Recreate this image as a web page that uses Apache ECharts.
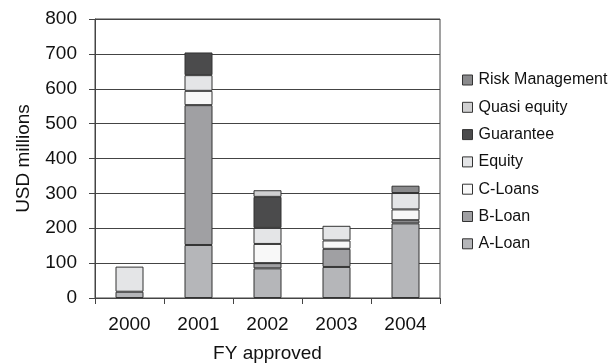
<!DOCTYPE html>
<html>
<head>
<meta charset="utf-8">
<script src="https://cdn.jsdelivr.net/npm/echarts@6/dist/echarts.min.js"></script>
<style>
  html, body { margin: 0; padding: 0; background: #fff; }
  #chart { width: 615px; height: 364px; }
</style>
</head>
<body>
<div id="chart"></div>
<script>
// Fiscal years of approval
const years = ['2000', '2001', '2002', '2003', '2004'];

// Approved amounts per instrument, USD millions
const aLoan          = [18, 152, 85, 89, 214];
const bLoan          = [0, 401, 15, 52, 9];
const cLoans         = [0, 41, 55, 24, 31];
const equity         = [72, 45, 46, 42, 47];
const guarantee      = [0, 65, 89, 0, 0];
const quasiEquity    = [0, 0, 19, 0, 0];
const riskManagement = [0, 0, 0, 0, 21];

// Y axis range
const yMin = 0, yMax = 800, yStep = 100;

const stackOrder = [
  { name: 'A-Loan', data: aLoan, color: '#b5b6b9' },
  { name: 'B-Loan', data: bLoan, color: '#a0a0a3' },
  { name: 'C-Loans', data: cLoans, color: '#f8f8f8' },
  { name: 'Equity', data: equity, color: '#e4e5e7' },
  { name: 'Guarantee', data: guarantee, color: '#4b4b4c' },
  { name: 'Quasi equity', data: quasiEquity, color: '#d0d0d1' },
  { name: 'Risk Management', data: riskManagement, color: '#8a8a8c' }
];

const font = 'Liberation Sans, Arial, sans-serif';

const chart = echarts.init(document.getElementById('chart'), null, { renderer: 'canvas' });
chart.setOption({
  animation: false,
  backgroundColor: '#fff',
  grid: {
    left: 95, right: 175, top: 19, bottom: 66,
    outerBoundsMode: 'none',
    containLabel: false,
    show: true, borderColor: '#444', borderWidth: 1, backgroundColor: 'transparent'
  },
  legend: {
    orient: 'vertical',
    left: 462, top: 72,
    padding: 0,
    itemWidth: 10, itemHeight: 10, itemGap: 11.3,
    icon: 'rect',
    data: stackOrder.map(s => s.name).reverse(),
    textStyle: { fontFamily: font, fontSize: 16, lineHeight: 16, color: '#111', padding: [0, 0, 0, 1] },
    itemStyle: { borderColor: '#333', borderWidth: 1 }
  },
  xAxis: {
    type: 'category',
    data: years,
    boundaryGap: true,
    axisLine: { lineStyle: { color: '#444', width: 1 } },
    axisTick: { show: true, length: 6, lineStyle: { color: '#444' } },
    axisLabel: { fontFamily: font, fontSize: 19, color: '#111', margin: 17 },
    name: 'FY approved',
    nameLocation: 'middle',
    nameGap: 46,
    nameTextStyle: { fontFamily: font, fontSize: 19, color: '#111' }
  },
  yAxis: {
    type: 'value',
    min: yMin, max: yMax, interval: yStep,
    axisLine: { show: true, lineStyle: { color: '#444', width: 1 } },
    axisTick: { show: true, length: 6, lineStyle: { color: '#444' } },
    splitLine: { show: true, lineStyle: { color: '#444', width: 1 } },
    axisLabel: { fontFamily: font, fontSize: 19, color: '#111', margin: 18 },
    name: 'USD millions',
    nameLocation: 'middle',
    nameGap: 62,
    nameTextStyle: { fontFamily: font, fontSize: 19, color: '#111' }
  },
  series: stackOrder.map(s => ({
    name: s.name,
    type: 'bar',
    stack: 'total',
    // empty segments are left out so no zero-height outline is drawn
    data: s.data.map(v => (v === 0 ? '-' : v)),
    barWidth: 28,
    itemStyle: { color: s.color, borderColor: '#333', borderWidth: 1 }
  }))
});
</script>
</body>
</html>
